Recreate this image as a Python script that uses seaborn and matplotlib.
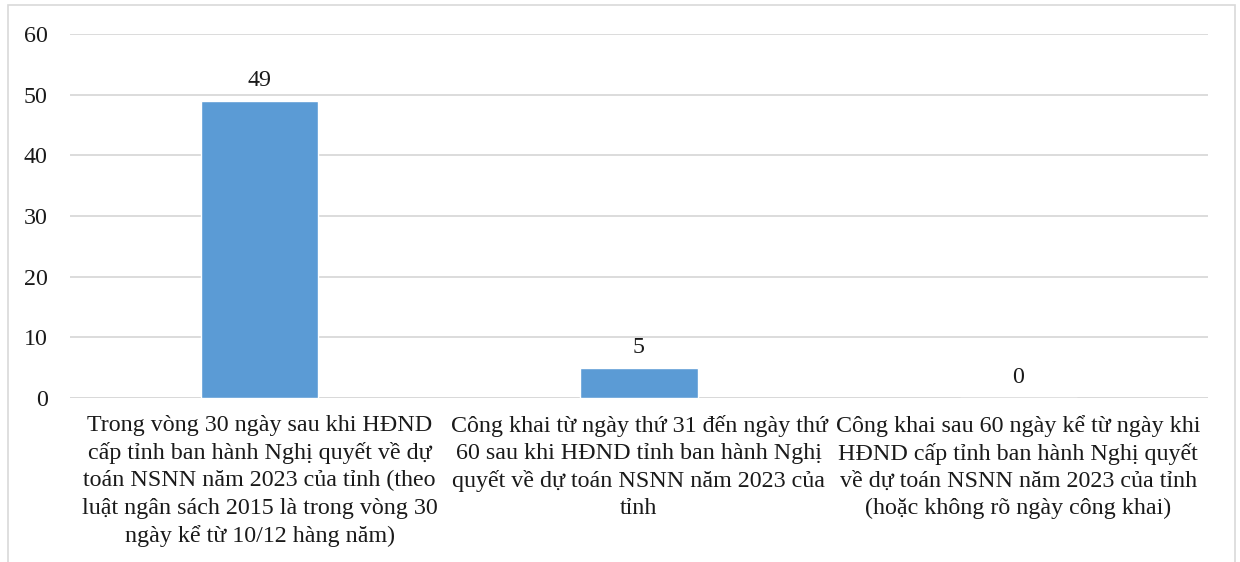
import pandas as pd
import matplotlib.pyplot as plt
import seaborn as sns
from matplotlib.patches import Rectangle

# Chart data
categories = [
    "Trong vòng 30 ngày sau khi HĐND\ncấp tỉnh ban hành Nghị quyết về dự\ntoán NSNN năm 2023 của tỉnh (theo\nluật ngân sách 2015 là trong vòng 30\nngày kể từ 10/12 hàng năm)",
    "Công khai từ ngày thứ 31 đến ngày thứ\n60 sau khi HĐND tỉnh ban hành Nghị\nquyết về dự toán NSNN năm 2023 của\ntỉnh",
    "Công khai sau 60 ngày kể từ ngày khi\nHĐND cấp tỉnh ban hành Nghị quyết\nvề dự toán NSNN năm 2023 của tỉnh\n(hoặc không rõ ngày công khai)",
]
counts = [49, 5, 0]
y_ticks = [0, 10, 20, 30, 40, 50, 60]

df = pd.DataFrame({"category": categories, "count": counts})

sns.set_theme(style="white")
plt.rcParams["font.family"] = ["Liberation Serif", "DejaVu Serif"]

fig = plt.figure(figsize=(12.4, 5.62), dpi=100)
ax = fig.add_axes([70 / 1240, 1 - 398 / 562, (1208 - 70) / 1240, (398 - 34) / 562])

sns.barplot(data=df, x="category", y="count", color="#5B9BD5", width=0.31,
            saturation=1, ax=ax)

ax.set_ylim(0, 60)
ax.set_yticks(y_ticks)
ax.yaxis.grid(True, color="#d9d9d9", linewidth=1.3)
ax.set_axisbelow(True)
for s in ax.spines.values():
    s.set_visible(False)
ax.axhline(0, color="#d9d9d9", linewidth=1.3, zorder=0)

ax.tick_params(axis="both", length=0, labelsize=17.3, colors="#1a1a1a")
ax.tick_params(axis="y", pad=16)
ax.tick_params(axis="x", pad=12)
ax.set_xlabel("")
ax.set_ylabel("")
for lab in ax.get_xticklabels():
    lab.set_ha("center")
    lab.set_va("top")
    lab.set_multialignment("center")
    lab.set_linespacing(1.38)

for c in ax.containers:
    ax.bar_label(c, labels=[str(v) for v in counts], padding=7,
                 fontsize=17.3, color="#1a1a1a")

# outer chart frame
fig.patches.append(Rectangle((8 / 1240, -0.05), (1235 - 8) / 1240, 1.05 - 5 / 562,
                             transform=fig.transFigure, fill=False,
                             edgecolor="#d9d9d9", linewidth=1.2))

fig.savefig("out.png", dpi=100)
